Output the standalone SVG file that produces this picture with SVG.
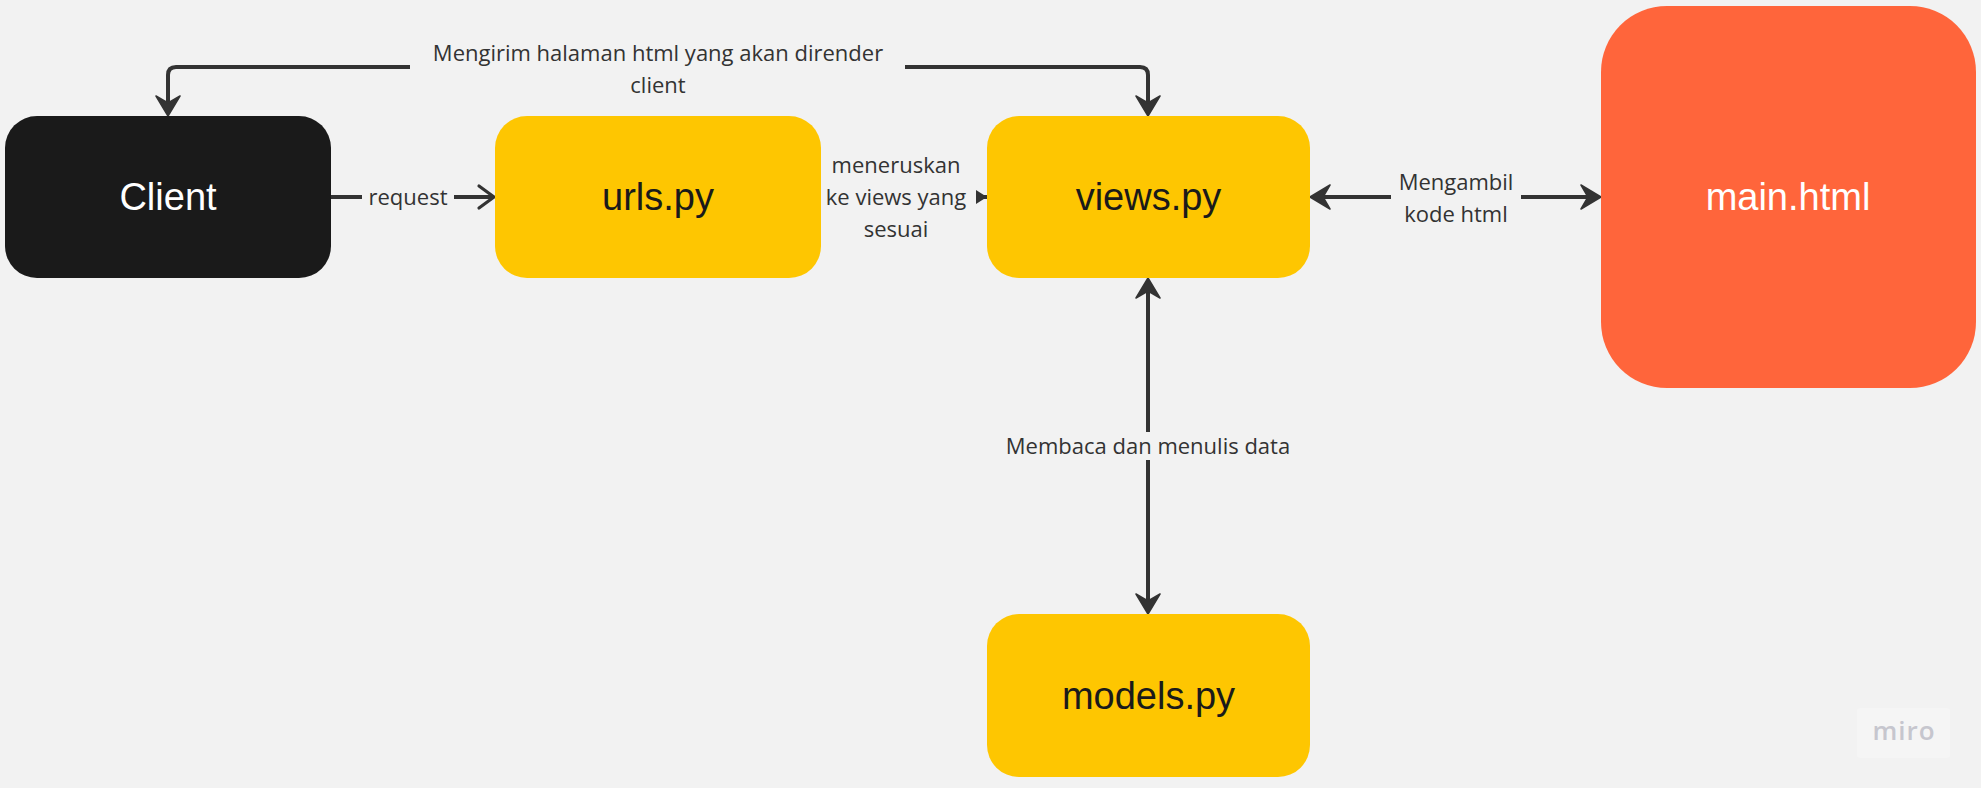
<svg xmlns="http://www.w3.org/2000/svg" width="1981" height="788" viewBox="0 0 1981 788">
<style>
.node-label{font-family:"Liberation Sans",Arial,sans-serif;font-size:38px;text-anchor:middle}
.edge-label{font-family:"Open Sans","Noto Sans",sans-serif;font-size:22px;fill:#333333;text-anchor:middle}
.conn{fill:none;stroke:#333333;stroke-width:4}
.yellow{fill:#fec601}
</style>
<defs>
<marker id="arrow" markerUnits="userSpaceOnUse" viewBox="-16 -13 24 26" refX="0" refY="0" markerWidth="24" markerHeight="26" orient="auto-start-reverse">
<path d="M6,0 L-14,-12 L-7,0 L-14,12 Z" fill="#333333" stroke="#333333" stroke-width="1.5" stroke-linejoin="round"/>
</marker>
<marker id="open" markerUnits="userSpaceOnUse" viewBox="-18 -14 22 28" refX="0" refY="0" markerWidth="22" markerHeight="28" orient="auto">
<path d="M-15,-11 L0,0 L-15,11" fill="none" stroke="#333333" stroke-width="3.2" stroke-linejoin="round" stroke-linecap="round"/>
</marker>
<marker id="small" markerUnits="userSpaceOnUse" viewBox="-14 -9 16 18" refX="0" refY="0" markerWidth="16" markerHeight="18" orient="auto">
<path d="M0,0 L-11,-7 L-11,7 Z" fill="#333333"/>
</marker>
</defs>
<rect x="0" y="0" width="1981" height="788" fill="#f2f2f2"/>

<g id="connectors">
<!-- views.py -> client (top) -->
<path class="conn" d="M410,67 L176,67 Q168,67 168,75 L168,110" marker-end="url(#arrow)"/>
<path class="conn" d="M905,67 L1140,67 Q1148,67 1148,75 L1148,110" marker-end="url(#arrow)"/>
<text class="edge-label" x="658" y="61">Mengirim halaman html yang akan dirender</text>
<text class="edge-label" x="658" y="93">client</text>
<!-- request -->
<path class="conn" d="M331,197 L362,197" stroke-width="3.5"/>
<path class="conn" d="M454,197 L494,197" stroke-width="3.5" marker-end="url(#open)"/>
<text class="edge-label" x="408" y="205">request</text>
<!-- urls -> views -->
<path class="conn" d="M976,197 L987,197" stroke-width="0" marker-end="url(#small)"/>
<text class="edge-label" x="896" y="173">meneruskan</text>
<text class="edge-label" x="896" y="205">ke views yang</text>
<text class="edge-label" x="896" y="237">sesuai</text>
<!-- views <-> main -->
<path class="conn" d="M1316,197 L1391,197" marker-start="url(#arrow)"/>
<path class="conn" d="M1521,197 L1595,197" marker-end="url(#arrow)"/>
<text class="edge-label" x="1456" y="190">Mengambil</text>
<text class="edge-label" x="1456" y="222">kode html</text>
<!-- views <-> models -->
<path class="conn" d="M1148,284 L1148,432" marker-start="url(#arrow)"/>
<path class="conn" d="M1148,460 L1148,608" marker-end="url(#arrow)"/>
<text class="edge-label" x="1148" y="454">Membaca dan menulis data</text>
</g>

<g id="client">
<rect x="5" y="116" width="326" height="162" rx="32" fill="#1a1a1a"/>
<text class="node-label" x="168" y="210" fill="#ffffff">Client</text>
</g>
<g id="urls">
<rect class="yellow" x="495" y="116" width="326" height="162" rx="32"/>
<text class="node-label" x="658" y="210" fill="#1a1a1a">urls.py</text>
</g>
<g id="views">
<rect class="yellow" x="987" y="116" width="323" height="162" rx="32"/>
<text class="node-label" x="1148.5" y="210" fill="#1a1a1a">views.py</text>
</g>
<g id="main">
<rect x="1601" y="6" width="375" height="382" rx="66" fill="#ff653b"/>
<text class="node-label" x="1788" y="210" fill="#ffffff">main.html</text>
</g>
<g id="models">
<rect class="yellow" x="987" y="614" width="323" height="163" rx="32"/>
<text class="node-label" x="1148.5" y="709" fill="#1a1a1a">models.py</text>
</g>

<g id="miro-logo">
<rect x="1857" y="708" width="93" height="50" rx="3" fill="#f5f5f5"/>
<text x="1904" y="740" font-family="'Open Sans','Noto Sans',sans-serif" font-size="26" font-weight="600" fill="#c6c6ce" text-anchor="middle" letter-spacing="1">miro</text>
</g>
</svg>
